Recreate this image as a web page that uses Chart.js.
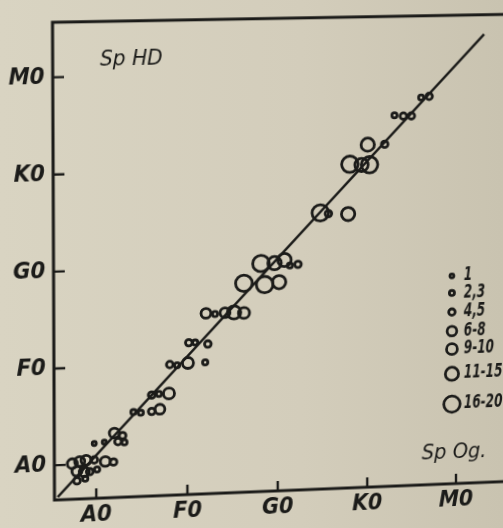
<!DOCTYPE html>
<html>
<head>
<meta charset="UTF-8">
<title>Sp HD vs Sp Og.</title>
<script src="https://cdn.jsdelivr.net/npm/chart.js"></script>
<style>
    html, body { margin: 0; padding: 0; }
    body { width: 503px; height: 528px; overflow: hidden; position: relative;
           background: linear-gradient(90deg, #d9d4c2 0%, #d3cdbb 60%, #c9c3b0 100%); }
    #myChart { position: absolute; left: 0; top: 0; }
</style>
</head>
<body>
<canvas id="myChart" width="540" height="528"></canvas>
<script>
// spectral classes, 0 = A0 ... 4 = M0
const tickLabels = ['A0', 'F0', 'G0', 'K0', 'M0'];

// Sp Og. (x) against Sp HD (y), and number of stars in each circle
const spX = [-0.26, -0.18, -0.11, -0.02, 0.10, 0.19, -0.21, -0.13, -0.07, 0.01, -0.21, -0.12,
             -0.02, 0.09, 0.20, 0.29, 0.24, 0.31,
             0.41, 0.49, 0.61, 0.70,
             0.61, 0.69, 0.80,
             0.81, 0.89, 1.01, 1.20,
             1.02, 1.09, 1.23,
             1.21, 1.31, 1.42, 1.52, 1.63,
             1.63, 1.86, 2.02,
             1.82, 1.97, 2.08, 2.14, 2.23,
             2.48, 2.57, 2.79,
             2.81, 2.94, 3.03,
             3.01, 3.20,
             3.31, 3.41, 3.50,
             3.61, 3.70];
const spY = [0.01, 0.03, 0.04, 0.04, 0.02, 0.01, -0.07, -0.08, -0.08, -0.06, -0.17, -0.15,
             0.21, 0.22, 0.31, 0.28, 0.22, 0.21,
             0.52, 0.51, 0.52, 0.54,
             0.69, 0.70, 0.70,
             1.00, 0.99, 1.01, 1.01,
             1.22, 1.22, 1.20,
             1.52, 1.51, 1.52, 1.52, 1.51,
             1.82, 1.80, 1.82,
             2.02, 2.02, 2.05, 1.99, 2.00,
             2.53, 2.52, 2.51,
             3.03, 3.02, 3.02,
             3.23, 3.23,
             3.53, 3.52, 3.52,
             3.71, 3.72];
const nStars = [6, 6, 6, 4, 6, 4, 6, 6, 4, 2, 4, 2,
                1, 1, 6, 4, 4, 2,
                2, 2, 4, 6,
                4, 2, 9,
                4, 2, 9, 2,
                4, 2, 4,
                6, 2, 6, 11, 9,
                16, 16, 11,
                16, 11, 11, 2, 4,
                16, 4, 11,
                16, 11, 16,
                11, 4,
                2, 4, 4,
                2, 4];

// legend: size classes
const legendLabels = ['1', '2,3', '4,5', '6-8', '9-10', '11-15', '16-20'];
const legendN = [1, 2, 4, 6, 9, 11, 16];
const legendY = [1.83, 1.65, 1.45, 1.25, 1.06, 0.80, 0.48];

// diagonal line
const lineX = [-0.42, 4.32];
const lineY = [-0.33, 4.36];

// circle size for a star count
const binTop = [1, 3, 5, 8, 10, 15, 20];
const binR = [2.0, 2.6, 3.3, 4.9, 5.5, 6.7, 8.3];
function radiusFor(n) {
    for (let i = 0; i < binTop.length; i++) {
        if (n <= binTop[i]) return binR[i];
    }
    return binR[binR.length - 1];
}

const INK = '#1b1b19';
const LEGEND_X = 3.955;
const labelFont = "'DejaVu Sans Condensed', 'DejaVu Sans', sans-serif";

let stars = [];
for (let i = 0; i < spX.length; i++) {
    stars.push({x: spX[i], y: spY[i], r: radiusFor(nStars[i])});
}
let keys = [];
for (let i = 0; i < legendN.length; i++) {
    keys.push({x: LEGEND_X, y: legendY[i], r: radiusFor(legendN[i])});
}
let diag = [];
for (let i = 0; i < lineX.length; i++) diag.push({x: lineX[i], y: lineY[i]});

// frame, inside ticks and the free texts
const paperPlugin = {
    id: 'paper',
    beforeDatasetsDraw(chart) {
        const ctx = chart.ctx, a = chart.chartArea;
        const xs = chart.scales.x, ys = chart.scales.y;
        ctx.save();
        ctx.strokeStyle = INK;
        ctx.lineWidth = 3;
        ctx.strokeRect(a.left, a.top, a.right - a.left, a.bottom - a.top);
        ctx.lineWidth = 2.4;
        ctx.beginPath();
        for (let i = 0; i < tickLabels.length; i++) {
            const px = xs.getPixelForValue(i);
            ctx.moveTo(px, a.bottom);
            ctx.lineTo(px, a.bottom - 10);
            const py = ys.getPixelForValue(i);
            ctx.moveTo(a.left, py);
            ctx.lineTo(a.left + 11, py);
        }
        ctx.stroke();
        ctx.restore();
    },
    afterDraw(chart) {
        const ctx = chart.ctx;
        const xs = chart.scales.x, ys = chart.scales.y;
        ctx.save();
        ctx.fillStyle = INK;
        ctx.textBaseline = 'middle';
        ctx.textAlign = 'center';
        ctx.font = 'italic 22px ' + labelFont;
        ctx.fillText('Sp HD', xs.getPixelForValue(0.40), ys.getPixelForValue(4.17));
        ctx.fillText('Sp Og.', xs.getPixelForValue(3.98), ys.getPixelForValue(-0.03));
        // key labels are narrow, squeeze them a bit
        ctx.textAlign = 'left';
        ctx.font = 'italic bold 19px ' + labelFont;
        for (let i = 0; i < legendLabels.length; i++) {
            ctx.save();
            ctx.translate(xs.getPixelForValue(4.09), ys.getPixelForValue(legendY[i]));
            ctx.scale(0.72, 1);
            ctx.fillText(legendLabels[i], 0, 0);
            ctx.restore();
        }
        ctx.restore();
    }
};

const ctx = document.getElementById('myChart');
new Chart(ctx, {
    type: 'bubble',
    data: {
        datasets: [{
            label: 'stars',
            data: stars,
            borderColor: INK,
            backgroundColor: 'rgba(0,0,0,0)',
            borderWidth: 2.8
        }, {
            label: 'key',
            data: keys,
            borderColor: INK,
            backgroundColor: 'rgba(0,0,0,0)',
            borderWidth: 2.8
        }, {
            type: 'line',
            label: 'diag',
            data: diag,
            borderColor: INK,
            borderWidth: 2.4,
            pointRadius: 0,
            fill: false
        }]
    },
    options: {
        responsive: false,
        animation: false,
        layout: { padding: { top: 20, right: 20, left: 0, bottom: 0 } },
        plugins: { legend: { display: false }, tooltip: { enabled: false } },
        scales: {
            x: {
                type: 'linear',
                min: -0.4556, max: 4.722,
                grid: { display: false, drawTicks: false },
                border: { display: false },
                afterFit(scale) { scale.height = 28; },
                ticks: {
                    stepSize: 1, includeBounds: false, padding: 3,
                    color: INK, maxRotation: 0,
                    font: { family: labelFont, size: 23, style: 'italic', weight: 'bold' },
                    callback: v => (Number.isInteger(v) && tickLabels[v]) ? tickLabels[v] : ''
                }
            },
            y: {
                type: 'linear',
                min: -0.359, max: 4.564,
                grid: { display: false, drawTicks: false },
                border: { display: false },
                afterFit(scale) { scale.width = 54; },
                ticks: {
                    stepSize: 1, includeBounds: false, padding: 8,
                    color: INK,
                    font: { family: labelFont, size: 23, style: 'italic', weight: 'bold' },
                    callback: v => (Number.isInteger(v) && tickLabels[v]) ? tickLabels[v] : ''
                }
            }
        }
    },
    plugins: [paperPlugin]
});

// the photo is slightly keystoned: map the plot frame corners onto the photographed ones
function homography(src, dst) {
    let A = [], B = [];
    for (let i = 0; i < 4; i++) {
        const [x, y] = src[i], [X, Y] = dst[i];
        A.push([x, y, 1, 0, 0, 0, -x * X, -y * X]); B.push(X);
        A.push([0, 0, 0, x, y, 1, -x * Y, -y * Y]); B.push(Y);
    }
    const n = 8;
    for (let c = 0; c < n; c++) {
        let p = c;
        for (let r = c + 1; r < n; r++) if (Math.abs(A[r][c]) > Math.abs(A[p][c])) p = r;
        [A[c], A[p]] = [A[p], A[c]]; [B[c], B[p]] = [B[p], B[c]];
        for (let r = 0; r < n; r++) {
            if (r === c) continue;
            const f = A[r][c] / A[c][c];
            for (let k = c; k < n; k++) A[r][k] -= f * A[c][k];
            B[r] -= f * B[c];
        }
    }
    return B.map((b, i) => b / A[i][i]);
}
const h = homography(
    [[54, 20], [500, 20], [500, 500], [54, 500]],
    [[52.5, 20.5], [500, 12.7], [500, 481.7], [54.5, 500]]
);
ctx.style.transformOrigin = '0 0';
ctx.style.transform = 'matrix3d(' + [h[0], h[3], 0, h[6], h[1], h[4], 0, h[7], 0, 0, 1, 0, h[2], h[5], 0, 1].join(',') + ')';
</script>
</body>
</html>
